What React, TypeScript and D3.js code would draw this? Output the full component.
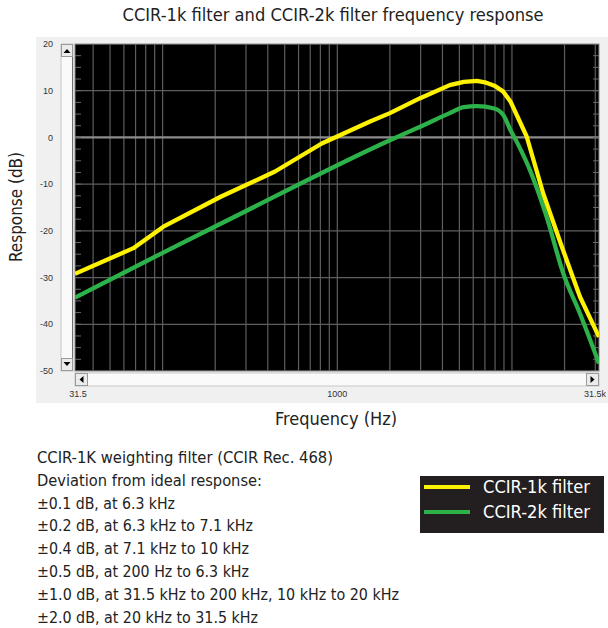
import * as d3 from "d3";

// CCIR-1k filter (yellow)
const freq1k = [31.5, 68, 101, 215, 440, 815, 1540, 2000, 2980, 4400, 5300, 6300, 7000, 8000, 8920, 9800, 12140, 15100, 19300, 24500, 31500];
const resp1k = [-29.2, -23.7, -19.1, -12.7, -7.3, -1.3, 3.4, 5.2, 8.4, 11.2, 11.9, 12.1, 11.8, 11.0, 9.8, 7.7, 0.2, -12.0, -23.4, -34.1, -42.7];

// CCIR-2k filter (green)
const freq2k = [31.5, 100, 228, 2000, 2980, 4400, 5300, 6300, 7900, 8920, 9800, 10640, 12680, 15800, 19660, 24500, 31500];
const resp2k = [-34.3, -24.7, -18.0, -0.6, 2.3, 5.2, 6.5, 6.7, 6.2, 4.8, 1.6, -0.9, -7.0, -17.0, -29.1, -37.7, -48.4];

const yTicks = [20, 10, 0, -10, -20, -30, -40, -50];
const xTickValues = [31.5, 1000, 31500];
const xTickLabels = ["31.5", "1000", "31.5k"];

const seriesNames = ["CCIR-1k filter", "CCIR-2k filter"];
const seriesColors = ["#fff200", "#2db24a"];

const noteLines = [
  "CCIR-1K weighting filter (CCIR Rec. 468)",
  "Deviation from ideal response:",
  "\u00b10.1 dB, at 6.3 kHz",
  "\u00b10.2 dB, at 6.3 kHz to 7.1 kHz",
  "\u00b10.4 dB, at 7.1 kHz to 10 kHz",
  "\u00b10.5 dB, at 200 Hz to 6.3 kHz",
  "\u00b11.0 dB, at 31.5 kHz to 200 kHz, 10 kHz to 20 kHz",
  "\u00b12.0 dB, at 20 kHz to 31.5 kHz",
];
const noteWidths = [296, 225, 138, 216, 212, 212, 362, 221];

const W = 608;
const H = 628;
const left = 75, right = 599, top = 44, bottom = 371;
const narrow = "'Liberation Sans Narrow', 'DejaVu Sans Condensed', 'Roboto', sans-serif";
const ui = "'Liberation Sans', Arial, sans-serif";

export default function App() {
  const x = d3.scaleLog().domain([31.5, 31500]).range([left, right]);
  const y = d3.scaleLinear().domain([-50, 20]).range([bottom, top]);

  // grid at 1-9 of every decade between the ends
  const gridF: number[] = [];
  [10, 100, 1000, 10000].forEach((d) => {
    for (let k = 1; k <= 9; k++) {
      const f = d * k;
      if (f > 31.5 && f < 31500) gridF.push(f);
    }
  });
  const minorY = d3.range(-50, 20.01, 2.5);

  const line = d3.line<[number, number]>().x((d) => x(d[0])).y((d) => y(d[1]));
  const path1k = line.curve(d3.curveLinear)(freq1k.map((f, i) => [f, resp1k[i]]));
  const path2k = line.curve(d3.curveMonotoneX)(freq2k.map((f, i) => [f, resp2k[i]]));

  return (
    <svg width={W} height={H} style={{ display: "block", position: "absolute", left: 0, top: 0 }}>
      <rect width={W} height={H} fill="#fff" />
      <text x={333} y={21} textAnchor="middle" fontFamily={narrow} fontSize={18} fill="#222"
        textLength={421} lengthAdjust="spacingAndGlyphs">
        CCIR-1k filter and CCIR-2k filter frequency response
      </text>

      {/* grey panel */}
      <rect x={36} y={37} width={572} height={366} fill="#f0f0f0" />

      {/* vertical scrollbar */}
      <rect x={61} y={44} width={12} height={327} fill="#fafafa" stroke="#c8c8c8" />
      <line x1={72.5} x2={72.5} y1={44} y2={371} stroke="#707070" />
      <rect x={61.5} y={44.5} width={11} height={12} fill="#ececec" stroke="#9a9a9a" />
      <path d="M63.5,53 L67,49 L70.5,53 Z" fill="#000" />
      <rect x={61.5} y={358.5} width={11} height={12} fill="#ececec" stroke="#9a9a9a" />
      <path d="M63.5,362 L67,366 L70.5,362 Z" fill="#000" />

      {/* horizontal scrollbar */}
      <rect x={75} y={373} width={524} height={13} fill="#fafafa" stroke="#c8c8c8" />
      <rect x={75.5} y={373.5} width={12} height={12} fill="#ececec" stroke="#9a9a9a" />
      <path d="M83.5,376 L79.5,379.5 L83.5,383 Z" fill="#000" />
      <rect x={586.5} y={373.5} width={12} height={12} fill="#ececec" stroke="#9a9a9a" />
      <path d="M590.5,376 L594.5,379.5 L590.5,383 Z" fill="#000" />

      {/* plot */}
      <defs>
        <clipPath id="plotClip">
          <rect x={left} y={top} width={right - left} height={bottom - top} />
        </clipPath>
      </defs>
      <rect x={left} y={top} width={right - left} height={bottom - top} fill="#000" stroke="#8a8a8a" />
      <g clipPath="url(#plotClip)">
        {gridF.map((f) => (
          <line key={f} x1={x(f)} x2={x(f)} y1={top} y2={bottom} stroke="#5e5e5e" strokeWidth={1.2} />
        ))}
        {yTicks.filter((t) => t !== 0).map((t) => (
          <line key={t} x1={left} x2={right} y1={y(t)} y2={y(t)} stroke="#5e5e5e" strokeWidth={1.2} />
        ))}
        <line x1={left} x2={right} y1={y(0)} y2={y(0)} stroke="#8c8c8c" strokeWidth={2.2} />
        {minorY.map((t) => (
          <g key={t}>
            <line x1={left} x2={left + 6} y1={y(t)} y2={y(t)} stroke="#6a6a6a" />
            <line x1={right - 6} x2={right} y1={y(t)} y2={y(t)} stroke="#6a6a6a" />
          </g>
        ))}
        <path d={path2k || ""} fill="none" stroke={seriesColors[1]} strokeWidth={4.3} />
        <path d={path1k || ""} fill="none" stroke={seriesColors[0]} strokeWidth={4.3} strokeLinejoin="round" />
      </g>

      {/* tick labels */}
      {yTicks.map((t) => (
        <text key={t} x={53} y={y(t)} dy="0.35em" textAnchor="end" fontFamily={ui} fontSize={9} fill="#333">
          {t}
        </text>
      ))}
      {xTickValues.map((v, i) => (
        <text key={v} x={Math.min(Math.max(x(v), 78), 595)} y={397} textAnchor="middle" fontFamily={ui} fontSize={9} fill="#333">
          {xTickLabels[i]}
        </text>
      ))}

      {/* axis titles */}
      <text x={336} y={425} textAnchor="middle" fontFamily={narrow} fontSize={18} fill="#222"
        textLength={122} lengthAdjust="spacingAndGlyphs">
        Frequency (Hz)
      </text>
      <text transform="translate(22,207) rotate(-90)" textAnchor="middle" fontFamily={narrow} fontSize={18} fill="#222"
        textLength={110} lengthAdjust="spacingAndGlyphs">
        Response (dB)
      </text>

      {/* notes */}
      {noteLines.map((s, i) => (
        <text key={i} x={37} y={463 + i * 22.8} fontFamily={narrow} fontSize={16} fill="#222"
          textLength={noteWidths[i]} lengthAdjust="spacingAndGlyphs">
          {s}
        </text>
      ))}

      {/* legend */}
      <rect x={420} y={476} width={184} height={57} fill="#231f20" />
      {seriesNames.map((n, i) => (
        <g key={n}>
          <line x1={424} x2={470} y1={487 + i * 25} y2={487 + i * 25} stroke={seriesColors[i]} strokeWidth={4} />
          <text x={483} y={493 + i * 25} fontFamily={narrow} fontSize={18} fill="#fff"
            textLength={107} lengthAdjust="spacingAndGlyphs">
            {n}
          </text>
        </g>
      ))}
    </svg>
  );
}
